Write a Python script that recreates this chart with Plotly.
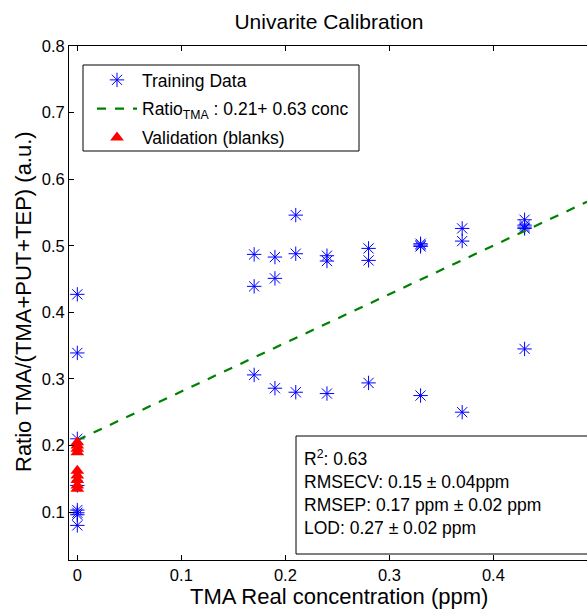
import plotly.graph_objects as go

# Training data (x = concentration ppm, y = ratio)
train_x = [0, 0, 0, 0, 0, 0, 0, 0,
           0.17, 0.17, 0.17,
           0.19, 0.19, 0.19,
           0.21, 0.21, 0.21,
           0.24, 0.24, 0.24,
           0.28, 0.28, 0.28,
           0.33, 0.33, 0.33, 0.33,
           0.37, 0.37, 0.37,
           0.43, 0.43, 0.43, 0.43, 0.43]
train_y = [0.427, 0.339, 0.210, 0.140, 0.103, 0.099, 0.096, 0.080,
           0.487, 0.439, 0.306,
           0.483, 0.451, 0.286,
           0.546, 0.488, 0.280,
           0.485, 0.477, 0.278,
           0.496, 0.478, 0.294,
           0.503, 0.501, 0.499, 0.275,
           0.526, 0.507, 0.250,
           0.539, 0.531, 0.528, 0.526, 0.345]

# Validation (blanks)
val_x = [0, 0, 0, 0, 0, 0, 0, 0, 0]
val_y = [0.205, 0.200, 0.195, 0.190, 0.162, 0.155, 0.148, 0.140, 0.135]

# Fitted calibration line endpoints
line_x = [0.0, 0.49]
line_y = [0.208, 0.566]

stats_lines = ["R<sup>2</sup>: 0.63",
               "RMSECV: 0.15 ± 0.04ppm",
               "RMSEP: 0.17 ppm ± 0.02 ppm",
               "LOD: 0.27 ± 0.02 ppm"]

x_ticks = [0, 0.1, 0.2, 0.3, 0.4]
y_ticks = [0.1, 0.2, 0.3, 0.4, 0.5, 0.6, 0.7, 0.8]

FONT = "Liberation Sans"
W, H = 587, 609
ML, MR, MT, MB = 69, 0, 46, 49
PW = W - ML - MR
PH = H - MT - MB

fig = go.Figure()
fig.add_trace(go.Scatter(
    x=train_x, y=train_y, mode="markers", name="Training Data", legendgroup="a",
    marker=dict(symbol="asterisk-open", size=12, color="#0000FF",
                line=dict(color="#0000FF", width=1))))
fig.add_trace(go.Scatter(
    x=line_x, y=line_y, mode="lines", legendgroup="b",
    name="Ratio<sub>TMA</sub> : 0.21+ 0.63 conc",
    line=dict(color="#008000", width=2.2, dash="dash")))
fig.add_trace(go.Scatter(
    x=val_x, y=val_y, mode="markers", name="Validation (blanks)", legendgroup="c",
    marker=dict(symbol="triangle-up", size=12, color="#FF0000",
                line=dict(width=0))))

def px_x(p):
    return (p - ML) / PW

def px_y(p):
    return 1 - (p - MT) / PH

# legend frame
fig.add_shape(type="rect", xref="paper", yref="paper",
              x0=px_x(83), x1=px_x(359), y0=px_y(151), y1=px_y(65),
              line=dict(color="black", width=1), fillcolor="white", layer="below")
# stats box
fig.add_shape(type="rect", xref="paper", yref="paper",
              x0=px_x(296), x1=px_x(620), y0=px_y(554), y1=px_y(436),
              line=dict(color="black", width=1), fillcolor="white", layer="below")
fig.add_annotation(xref="paper", yref="paper", x=px_x(302), y=px_y(445),
                   xanchor="left", yanchor="top", align="left",
                   text="<br>".join(stats_lines), showarrow=False,
                   font=dict(family=FONT, size=17.5, color="black"))

# axis titles
fig.add_annotation(xref="paper", yref="paper", x=px_x(339), y=px_y(596),
                   xanchor="center", yanchor="middle", showarrow=False,
                   text="TMA Real concentration (ppm)",
                   font=dict(family=FONT, size=22, color="black"))
fig.add_annotation(xref="paper", yref="paper", x=px_x(23), y=px_y(302),
                   xanchor="center", yanchor="middle", showarrow=False,
                   textangle=-90, text="Ratio TMA/(TMA+PUT+TEP) (a.u.)",
                   font=dict(family=FONT, size=22, color="black"))

fig.update_layout(
    width=W, height=H,
    margin=dict(l=ML, r=MR, t=MT, b=MB),
    paper_bgcolor="white", plot_bgcolor="white",
    title=dict(text="Univarite Calibration", x=329 / W, xanchor="center",
               xref="container", y=1 - 22 / H, yanchor="middle",
               font=dict(family=FONT, size=21, color="black")),
    font=dict(family=FONT, size=16, color="black"),
    showlegend=True,
    legend=dict(x=px_x(92), y=px_y(62), xanchor="left", yanchor="top",
                borderwidth=0, bgcolor="rgba(0,0,0,0)",
                font=dict(family=FONT, size=17.5, color="black"),
                itemwidth=40, tracegroupgap=3),
    xaxis=dict(range=[-0.008, 0.49], tickvals=x_ticks,
               ticktext=[f"{v:g}" for v in x_ticks],
               ticks="inside", ticklen=5, tickcolor="black",
               showline=True, linecolor="black", linewidth=1, mirror="ticks",
               showgrid=False, zeroline=False,
               tickfont=dict(family=FONT, size=16.5)),
    yaxis=dict(range=[0.028, 0.8], tickvals=y_ticks,
               ticktext=[f"{v:g}" for v in y_ticks],
               ticks="inside", ticklen=5, tickcolor="black",
               showline=True, linecolor="black", linewidth=1,
               showgrid=False, zeroline=False,
               tickfont=dict(family=FONT, size=16.5)),
)

fig.write_html("out.html")
